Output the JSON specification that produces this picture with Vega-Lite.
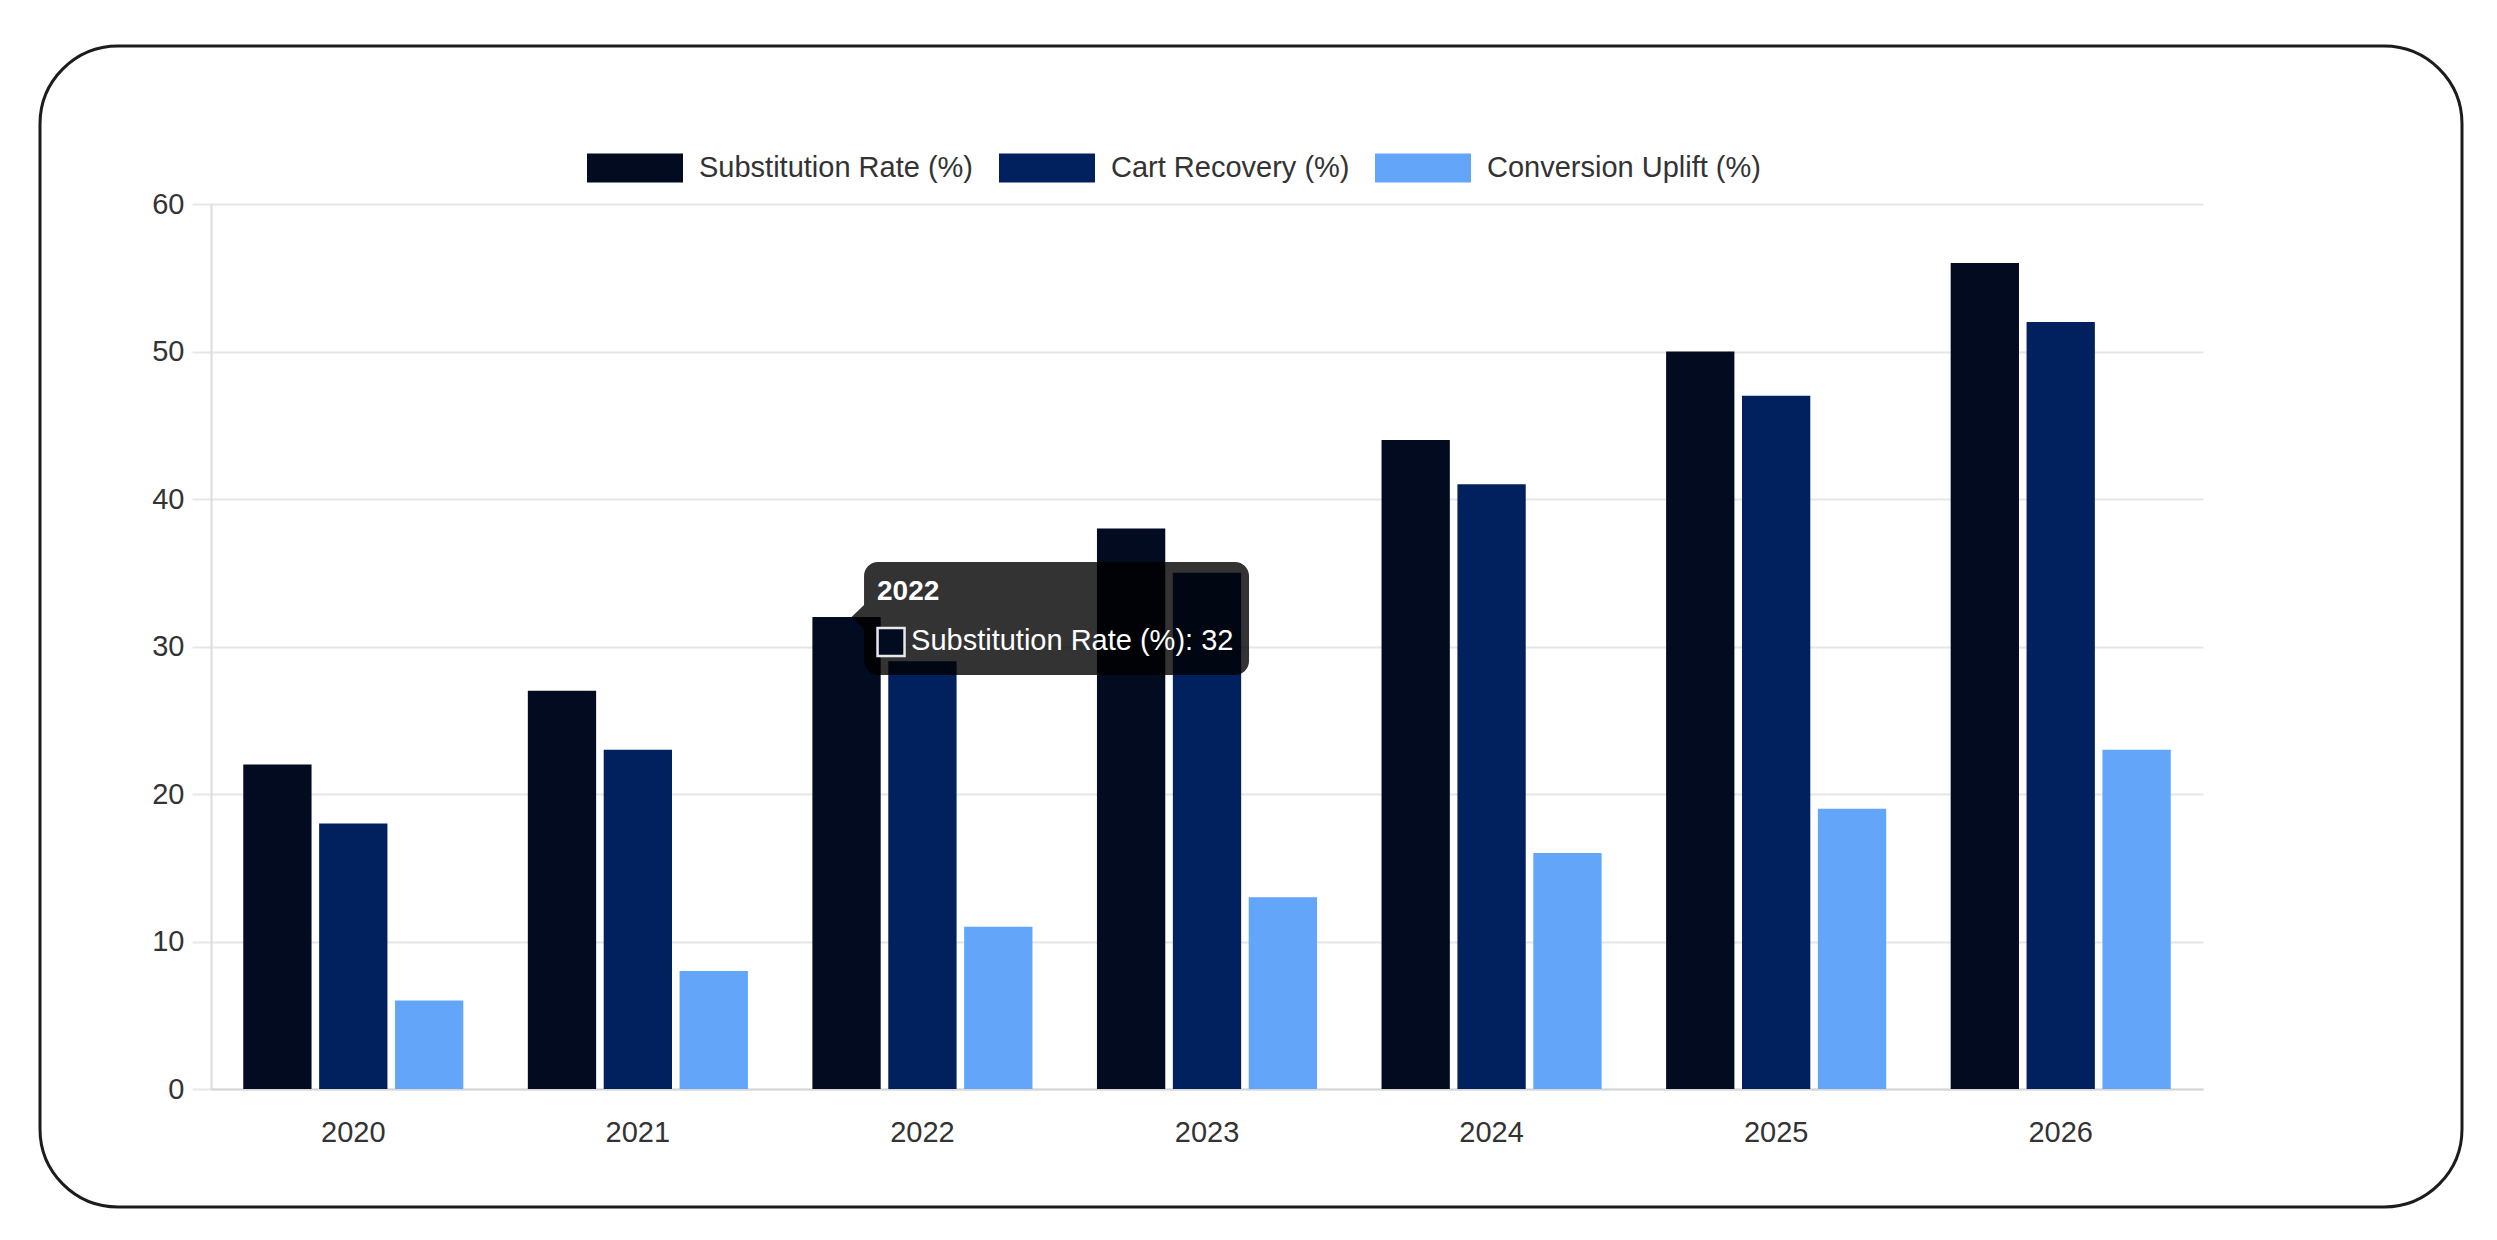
{
  "$schema": "https://vega.github.io/schema/vega-lite/v6.json",
  "description": "Grouped bars of substitution, cart recovery and conversion uplift by year, inside a rounded card, with a hover tooltip on 2022.",
  "autosize": {"type": "none"},
  "padding": {"left": 40, "top": 46, "right": 35, "bottom": 33},
  "width": 2422,
  "height": 1161,
  "background": "white",
  "config": {
    "font": "Liberation Sans",
    "view": {"stroke": "#1c1c1c", "strokeWidth": 3, "cornerRadius": 78, "fill": "white"},
    "axis": {"labelFont": "Liberation Sans", "labelFontSize": 29, "labelColor": "#333333", "title": null}
  },
  "data": {
    "values": [
      {"year": "2020", "series": "Substitution Rate (%)", "value": 22},
      {"year": "2020", "series": "Cart Recovery (%)", "value": 18},
      {"year": "2020", "series": "Conversion Uplift (%)", "value": 6},
      {"year": "2021", "series": "Substitution Rate (%)", "value": 27},
      {"year": "2021", "series": "Cart Recovery (%)", "value": 23},
      {"year": "2021", "series": "Conversion Uplift (%)", "value": 8},
      {"year": "2022", "series": "Substitution Rate (%)", "value": 32},
      {"year": "2022", "series": "Cart Recovery (%)", "value": 29},
      {"year": "2022", "series": "Conversion Uplift (%)", "value": 11},
      {"year": "2023", "series": "Substitution Rate (%)", "value": 38},
      {"year": "2023", "series": "Cart Recovery (%)", "value": 35},
      {"year": "2023", "series": "Conversion Uplift (%)", "value": 13},
      {"year": "2024", "series": "Substitution Rate (%)", "value": 44},
      {"year": "2024", "series": "Cart Recovery (%)", "value": 41},
      {"year": "2024", "series": "Conversion Uplift (%)", "value": 16},
      {"year": "2025", "series": "Substitution Rate (%)", "value": 50},
      {"year": "2025", "series": "Cart Recovery (%)", "value": 47},
      {"year": "2025", "series": "Conversion Uplift (%)", "value": 19},
      {"year": "2026", "series": "Substitution Rate (%)", "value": 56},
      {"year": "2026", "series": "Cart Recovery (%)", "value": 52},
      {"year": "2026", "series": "Conversion Uplift (%)", "value": 23}
    ]
  },
  "encoding": {
    "x": {
      "field": "year",
      "type": "nominal",
      "scale": {"range": [171, 2163], "paddingInner": 0.2, "paddingOuter": 0.1},
      "axis": {
        "orient": "bottom",
        "offset": -118,
        "labelAngle": 0,
        "ticks": false,
        "grid": false,
        "domainColor": "#d6d6d6",
        "domainWidth": 2,
        "labelPadding": 29
      }
    },
    "xOffset": {
      "field": "series",
      "type": "nominal",
      "sort": ["Substitution Rate (%)", "Cart Recovery (%)", "Conversion Uplift (%)"],
      "scale": {"paddingInner": 0.1, "paddingOuter": 0.05}
    },
    "y": {
      "field": "value",
      "type": "quantitative",
      "scale": {"domain": [0, 60], "range": [1043, 158], "nice": false},
      "axis": {
        "offset": -171,
        "values": [0, 10, 20, 30, 40, 50, 60],
        "grid": true,
        "gridColor": "#e6e6e6",
        "gridWidth": 2,
        "tickSize": 19,
        "tickColor": "#e6e6e6",
        "tickWidth": 2,
        "domainColor": "#dcdcdc",
        "domainWidth": 2,
        "labelPadding": 8
      }
    }
  },
  "layer": [
    {
      "mark": {"type": "bar"},
      "encoding": {
        "color": {
          "field": "series",
          "type": "nominal",
          "scale": {
            "domain": ["Substitution Rate (%)", "Cart Recovery (%)", "Conversion Uplift (%)"],
            "range": ["#020b1f", "#00215d", "#62a5f9"]
          },
          "legend": {
            "title": null,
            "orient": "none",
            "direction": "horizontal",
            "legendX": 547,
            "legendY": 74,
            "symbolType": "M-1,-0.3H1V0.3H-1Z",
            "symbolSize": 9216,
            "symbolStrokeWidth": 0,
            "labelFont": "Liberation Sans",
            "labelFontSize": 29,
            "labelColor": "#333333",
            "labelOffset": 16,
            "columnPadding": 25,
            "labelLimit": 600
          }
        }
      }
    },
    {
      "transform": [{"filter": "datum.year === '2022' && datum.series === 'Substitution Rate (%)'"}],
      "mark": {
        "type": "point",
        "filled": true,
        "fill": "#000000",
        "fillOpacity": 0.8,
        "size": 4,
        "shape": "M31.5,-55H388.5A14,14,0,0,1,402.5,-41V44A14,14,0,0,1,388.5,58H31.5A14,14,0,0,1,17.5,44V12L5,0L17.5,-12V-41A14,14,0,0,1,31.5,-55Z"
      }
    },
    {
      "transform": [{"filter": "datum.year === '2022' && datum.series === 'Substitution Rate (%)'"}],
      "mark": {
        "type": "text",
        "align": "left",
        "baseline": "middle",
        "dx": 30.5,
        "dy": -25,
        "font": "Liberation Sans",
        "fontSize": 28,
        "fontWeight": "bold",
        "fill": "#ffffff"
      },
      "encoding": {"text": {"field": "year"}}
    },
    {
      "transform": [{"filter": "datum.year === '2022' && datum.series === 'Substitution Rate (%)'"}],
      "mark": {
        "type": "point",
        "filled": true,
        "size": 4,
        "shape": "M31,11H58V39H31Z",
        "fill": "#020b1f",
        "fillOpacity": 1,
        "stroke": "#e8e8e8",
        "strokeWidth": 2.5,
        "strokeOpacity": 1
      }
    },
    {
      "transform": [
        {"filter": "datum.year === '2022' && datum.series === 'Substitution Rate (%)'"},
        {"calculate": "datum.series + ': ' + datum.value", "as": "tip"}
      ],
      "mark": {
        "type": "text",
        "align": "left",
        "baseline": "middle",
        "dx": 64.5,
        "dy": 24,
        "font": "Liberation Sans",
        "fontSize": 29,
        "fill": "#ffffff"
      },
      "encoding": {"text": {"field": "tip"}}
    }
  ]
}
